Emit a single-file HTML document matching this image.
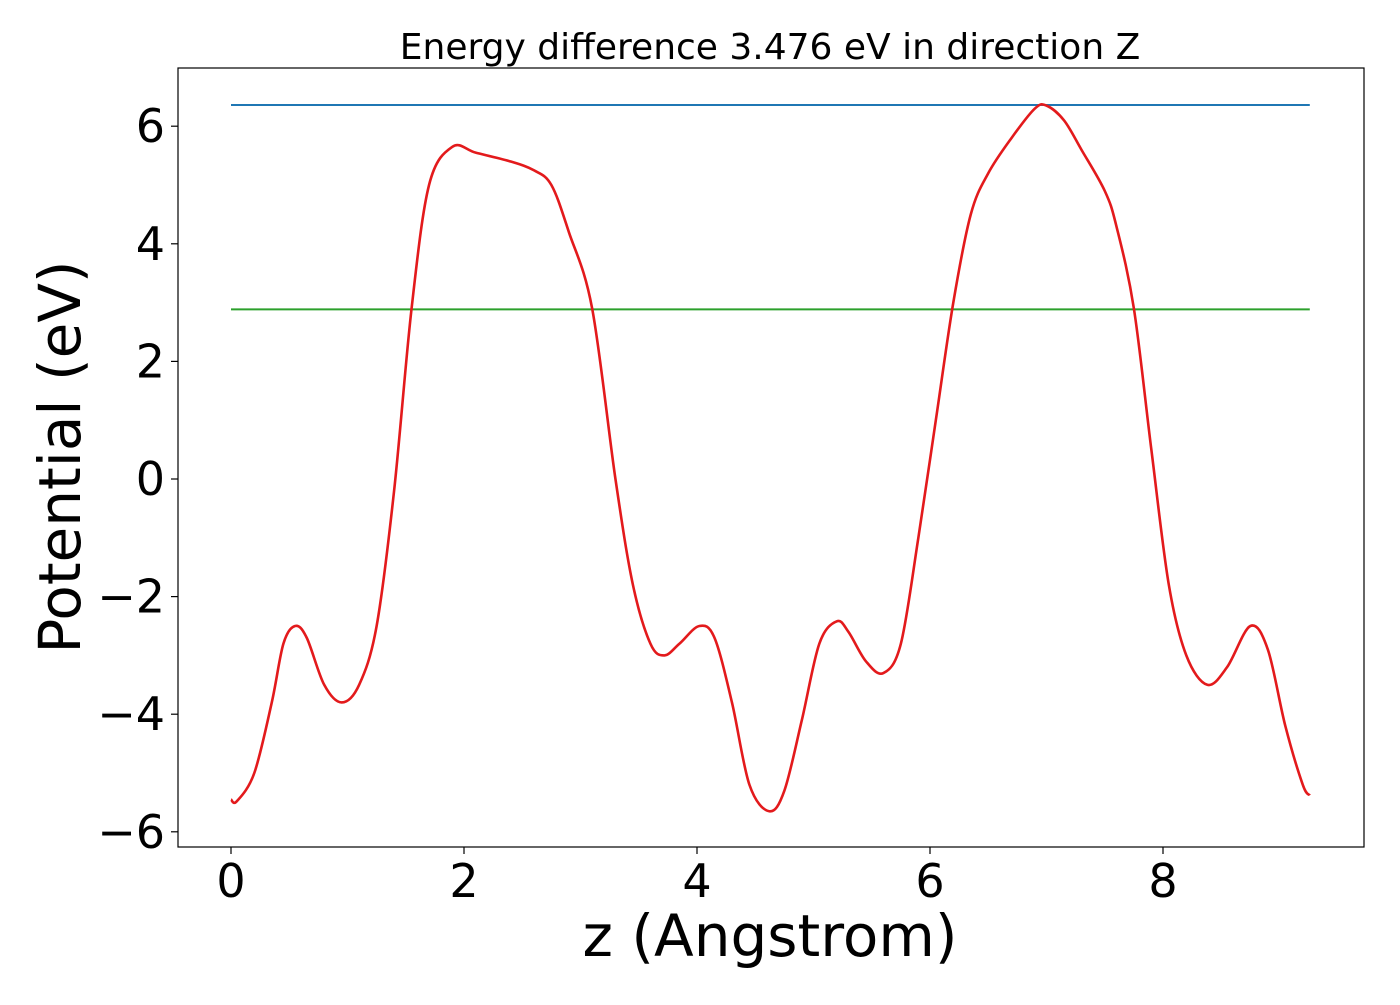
<!DOCTYPE html>
<html><head><meta charset="utf-8"><style>
body{margin:0;background:#fff;}
svg text{font-family:"DejaVu Sans","Liberation Sans",sans-serif;fill:#000;}
</style></head><body>
<svg id="chart" width="1400" height="1000">
<rect x="178" y="68" width="1186" height="779" fill="none" stroke="#000" stroke-width="1.2"/>
<g id="xt"></g>
<g id="yt"></g>
<g id="series"></g>
<text x="770" y="59" font-size="36" text-anchor="middle">Energy difference 3.476 eV in direction Z</text>
<text x="770" y="956" font-size="58" text-anchor="middle">z (Angstrom)</text>
<text x="0" y="0" font-size="58" text-anchor="middle" transform="translate(80,457) rotate(-90)">Potential (eV)</text>
</svg>
<script>
const xTicks=[0,2,4,6,8];
const yTicks=[6,4,2,0,-2,-4,-6];
const zVals=[0,0.05,0.2,0.35,0.45,0.55,0.65,0.8,0.95,1.1,1.25,1.4,1.55,1.7,1.9,2.1,2.4,2.6,2.75,2.9,3.1,3.3,3.45,3.6,3.72,3.85,4.02,4.15,4.3,4.45,4.62,4.75,4.9,5.05,5.2,5.3,5.45,5.6,5.75,5.9,6.05,6.2,6.35,6.5,6.7,6.9,7.0,7.15,7.3,7.5,7.6,7.75,7.9,8.05,8.2,8.38,8.55,8.75,8.9,9.05,9.2,9.26];
const potVals=[-5.45,-5.48,-5.0,-3.8,-2.8,-2.5,-2.7,-3.5,-3.8,-3.5,-2.5,-0.2,2.9,5.0,5.65,5.55,5.4,5.25,5.0,4.2,2.9,0,-1.8,-2.8,-3.0,-2.8,-2.5,-2.7,-3.8,-5.2,-5.65,-5.3,-4.1,-2.8,-2.42,-2.6,-3.1,-3.3,-2.8,-1.0,1.0,3.0,4.5,5.2,5.8,6.3,6.35,6.1,5.6,4.9,4.3,2.9,0.5,-1.8,-3.0,-3.5,-3.2,-2.5,-2.9,-4.2,-5.2,-5.38];
const vacuumLevel=6.36;
const fermiLevel=2.884;
const xMin=0,xMax=9.26;
const NS="http://www.w3.org/2000/svg";
function X(v){return 231+v*116.5;}
function Y(v){return 479-v*58.8;}
function mk(t,a){const e=document.createElementNS(NS,t);for(const k in a)e.setAttribute(k,a[k]);return e;}
const xt=document.getElementById('xt'),yt=document.getElementById('yt'),sg=document.getElementById('series');
xTicks.forEach(v=>{
 const l=mk('line',{x1:X(v),x2:X(v),y1:847,y2:854,stroke:'#000','stroke-width':1.2});
 
 
 xt.appendChild(l);
 const t=mk('text',{x:X(v),y:897,'font-size':46,'text-anchor':'middle'});t.textContent=String(v);
 
 
 xt.appendChild(t);
});
yTicks.forEach(v=>{
 const l=mk('line',{x1:171,x2:178,y1:Y(v),y2:Y(v),stroke:'#000','stroke-width':1.2});
 
 
 yt.appendChild(l);
 const t=mk('text',{x:165,y:Y(v)+16,'font-size':46,'text-anchor':'end'});t.textContent=v<0?'\u2212'+(-v):String(v);
 
 
 yt.appendChild(t);
});
const vl=mk('line',{x1:X(xMin),x2:X(xMax),y1:Y(vacuumLevel),y2:Y(vacuumLevel),stroke:'#1f77b4','stroke-width':2});


sg.appendChild(vl);
const fl=mk('line',{x1:X(xMin),x2:X(xMax),y1:Y(fermiLevel),y2:Y(fermiLevel),stroke:'#2ca02c','stroke-width':2});


sg.appendChild(fl);
const P=zVals.map((z,i)=>[X(z),Y(potVals[i])]);
let d='M'+P[0][0]+','+P[0][1];
for(let i=0;i<P.length-1;i++){
 const p0=P[Math.max(0,i-1)],p1=P[i],p2=P[i+1],p3=P[Math.min(P.length-1,i+2)];
 const c1=[p1[0]+(p2[0]-p0[0])/6,p1[1]+(p2[1]-p0[1])/6];
 const c2=[p2[0]-(p3[0]-p1[0])/6,p2[1]-(p3[1]-p1[1])/6];
 d+=' C'+c1[0]+','+c1[1]+' '+c2[0]+','+c2[1]+' '+p2[0]+','+p2[1];
}
const pl=mk('path',{d:d,fill:'none',stroke:'#e31a1c','stroke-width':2.6});


sg.appendChild(pl);
</script>
</body></html>
